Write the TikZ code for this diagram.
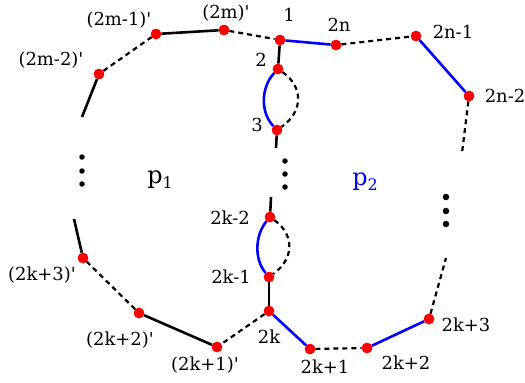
\documentclass[tikz,border=0pt]{standalone}
\usepackage{fontspec}
\setmainfont{DejaVu Serif}
\newcommand{\pr}{\textquotesingle}
\begin{document}
\begin{tikzpicture}[x=1bp,y=-1bp,
  vert/.style={circle,fill=red,inner sep=0pt,minimum size=10.5bp},
  lab/.style={font=\fontsize{18}{20}\selectfont, inner sep=0pt},
  plab/.style={font=\fontsize{24}{26}\selectfont, inner sep=0pt},
  solidedge/.style={line width=2.6bp,black},
  blueedge/.style={line width=2.6bp,blue},
  dashedge/.style={line width=2.2bp,black,dash pattern=on 5bp off 4bp},
  dotm/.style={circle,fill=black,inner sep=0pt,minimum size=5.5bp}]
\useasboundingbox (0,0) rectangle (525,382);
% vertices
\node[vert] (a2m)  at (224,30) {};
\node[vert] (a2m1) at (156,34) {};
\node[vert] (a2m2) at (99,74) {};
\node[vert] (v1)   at (280,40) {};
\node[vert] (v2n)  at (336,45) {};
\node[vert] (v2n1) at (416,36) {};
\node[vert] (v2n2) at (469,96) {};
\node[vert] (v2)   at (278,69) {};
\node[vert] (v3)   at (277,130) {};
\node[vert] (vk2)  at (270,217) {};
\node[vert] (vk1)  at (269,277) {};
\node[vert] (vk)   at (269,311) {};
\node[vert] (vkp1) at (310,349) {};
\node[vert] (vkp2) at (367,348) {};
\node[vert] (vkp3) at (429,319) {};
\node[vert] (akp3) at (83,258) {};
\node[vert] (akp2) at (139,313) {};
\node[vert] (akp1) at (217,347) {};
% free ends
\coordinate (e1) at (82,117);
\coordinate (e2) at (462,153);
\coordinate (e3) at (276,148);
\coordinate (e4) at (271,197);
\coordinate (e5) at (446,258);
\coordinate (e6) at (74,219);
% edges
\draw[dashedge] (a2m2) -- (a2m1);
\draw[solidedge] (a2m1) -- (a2m);
\draw[dashedge] (a2m) -- (v1);
\draw[blueedge] (v1) -- (v2n);
\draw[dashedge] (v2n) -- (v2n1);
\draw[blueedge] (v2n1) -- (v2n2);
\draw[dashedge] (v2n2) -- (e2);
\draw[solidedge] (a2m2) -- (e1);
\draw[solidedge] (v1) -- (v2);
\draw[blueedge] (v2) .. controls +(-17,18) and +(-17,-18) .. (v3);
\draw[dashedge] (v2) .. controls +(26,18) and +(26,-18) .. (v3);
\draw[solidedge] (v3) -- (e3);
\draw[solidedge] (e4) -- (vk2);
\draw[blueedge] (vk2) .. controls +(-15,18) and +(-15,-18) .. (vk1);
\draw[dashedge] (vk2) .. controls +(25,18) and +(25,-18) .. (vk1);
\draw[solidedge] (vk1) -- (vk);
\draw[blueedge] (vk) -- (vkp1);
\draw[dashedge] (vkp1) -- (vkp2);
\draw[blueedge] (vkp2) -- (vkp3);
\draw[dashedge] (vkp3) -- (e5);
\draw[dashedge] (vk) -- (akp1);
\draw[solidedge] (akp1) -- (akp2);
\draw[dashedge] (akp2) -- (akp3);
\draw[solidedge] (akp3) -- (e6);
% redraw vertices on top
\foreach \n in {a2m,a2m1,a2m2,v1,v2n,v2n1,v2n2,v2,v3,vk2,vk1,vk,vkp1,vkp2,vkp3,akp3,akp2,akp1}
  \fill[red] (\n.center) circle (5.25bp);
% dots
\node[dotm] (d1) at (82,157) {};
\node[dotm] (d2) at (82,171) {};
\node[dotm] (d3) at (82,184) {};
\node[dotm] (d4) at (285,161) {};
\node[dotm] (d5) at (285,174) {};
\node[dotm] (d6) at (285,187) {};
\node[dotm,minimum size=6.5bp] (d7) at (446,197) {};
\node[dotm,minimum size=6.5bp] (d8) at (446,211) {};
\node[dotm,minimum size=6.5bp] (d9) at (446,224) {};
% labels
\node[lab] (l2m)  at (226,13) {(2m)\pr};
\node[lab] (l2m1) at (119,20) {(2m-1)\pr};
\node[lab] (l2m2) at (51,60) {(2m-2)\pr};
\node[lab] (l1)   at (289,15) {1};
\node[lab] (l2n)  at (339,25) {2n};
\node[lab] (l2n1) at (453,32) {2n-1};
\node[lab] (l2n2) at (505,96) {2n-2};
\node[lab] (l2)   at (261,60) {2};
\node[lab] (l3)   at (257,125) {3};
\node[lab] (lk2)  at (230,218) {2k-2};
\node[lab] (lk1)  at (231,277) {2k-1};
\node[lab] (lk)   at (269,337) {2k};
\node[lab] (lkp1) at (325,367) {2k+1};
\node[lab] (lkp2) at (406,363) {2k+2};
\node[lab] (lkp3) at (466,325) {2k+3};
\node[lab] (mkp3) at (42,275) {(2k+3)\pr};
\node[lab] (mkp2) at (120,340) {(2k+2)\pr};
\node[lab] (mkp1) at (205,365) {(2k+1)\pr};
\node[plab] (p1) at (160,180) {p\raisebox{-0.35ex}{\fontsize{16}{16}\selectfont 1}};
\node[plab,text=blue] (p2) at (365,182) {p\raisebox{-0.35ex}{\fontsize{16}{16}\selectfont 2}};
\end{tikzpicture}
\end{document}
